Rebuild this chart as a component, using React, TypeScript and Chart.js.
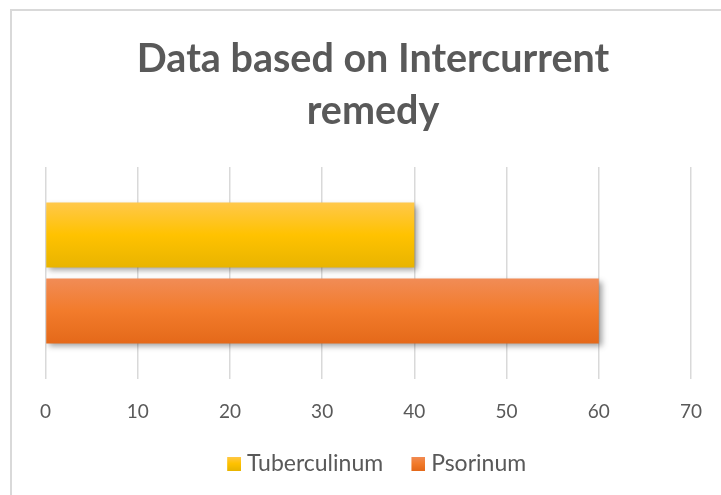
import React, { useEffect, useRef } from 'react';
import { Chart, registerables } from 'chart.js';

Chart.register(...registerables);

const categories = ['Intercurrent remedy'];
const seriesNames = ['Tuberculinum', 'Psorinum'];
const tuberculinum = [40];
const psorinum = [60];
const xTicks = [0, 10, 20, 30, 40, 50, 60, 70];
const titleLines = ['Data based on Intercurrent', 'remedy'];

const GRADS: string[][] = [
  ['#ffc84b', '#ffc200', '#e8b400'],
  ['#f18c56', '#f27b2b', '#e4691a'],
];

const CAT_PCT = 0.717;
const BAR_PCT = 0.855;
const CANVAS_W = 746;
const CANVAS_H = 495;

function barFill(stops: string[]) {
  return (c: any) => {
    const chart = c.chart;
    const ys = chart.scales && chart.scales.y;
    if (!ys || !chart.chartArea || c.type !== 'data') return stops[1];
    const n = ys.getLabels().length || 1;
    const catH = ((ys.bottom - ys.top) / n) * CAT_PCT;
    const nds = chart.data.datasets.length;
    const slot = catH / nds;
    const h = slot * BAR_PCT;
    const center = ys.getPixelForValue(c.dataIndex) - catH / 2 + slot * (c.datasetIndex + 0.5);
    const g = chart.ctx.createLinearGradient(0, center - h / 2, 0, center + h / 2);
    g.addColorStop(0, stops[0]);
    g.addColorStop(0.5, stops[1]);
    g.addColorStop(1, stops[2]);
    return g;
  };
}

// legend swatch: 14px gradient square at the right end of a 27px-wide transparent image
function makeSwatch(stops: string[]) {
  const cv = document.createElement('canvas');
  cv.width = 27;
  cv.height = 14;
  const cx = cv.getContext('2d')!;
  const g = cx.createLinearGradient(0, 0, 0, 14);
  g.addColorStop(0, stops[0]);
  g.addColorStop(0.5, stops[1]);
  g.addColorStop(1, stops[2]);
  cx.fillStyle = g;
  cx.fillRect(13, 0, 14, 14);
  return cv;
}

const shadowPlugin = {
  id: 'barShadow',
  beforeDatasetsDraw(chart: any) {
    const ctx = chart.ctx;
    ctx.save();
    ctx.shadowColor = 'rgba(0,0,0,0.38)';
    ctx.shadowBlur = 6;
    ctx.shadowOffsetX = 3;
    ctx.shadowOffsetY = 3;
  },
  afterDatasetsDraw(chart: any) {
    chart.ctx.restore();
  },
};

export default function App() {
  const ref = useRef<HTMLCanvasElement | null>(null);

  useEffect(() => {
    if (!ref.current) return;
    const swatches = GRADS.map(makeSwatch);
    const chart = new Chart(ref.current, {
      type: 'bar',
      data: {
        labels: categories,
        datasets: [
          { label: seriesNames[0], data: tuberculinum, backgroundColor: barFill(GRADS[0]) as any, borderWidth: 0 },
          { label: seriesNames[1], data: psorinum, backgroundColor: barFill(GRADS[1]) as any, borderWidth: 0 },
        ],
      },
      options: {
        indexAxis: 'y',
        responsive: false,
        animation: false,
        devicePixelRatio: 1,
        categoryPercentage: CAT_PCT,
        barPercentage: BAR_PCT,
        layout: { padding: { left: 0, right: 0, top: 0, bottom: 10 } },
        scales: {
          x: {
            type: 'linear',
            min: xTicks[0],
            max: xTicks[xTicks.length - 1],
            ticks: {
              stepSize: xTicks[1] - xTicks[0],
              padding: 21,
              color: '#595959',
              font: { family: 'Lato', size: 19 },
            },
            grid: { color: '#d9d9d9', lineWidth: 1.5, drawTicks: false },
            border: { display: false },
            afterFit: (s: any) => {
              s.height = 52;
            },
          },
          y: {
            type: 'category',
            position: 'left',
            grid: { display: false, drawTicks: false },
            border: { display: false },
            ticks: { display: false },
            afterFit: (s: any) => {
              s.width = 45.5;
            },
          },
          y2: {
            type: 'linear',
            position: 'right',
            grid: { display: false, drawTicks: false },
            border: { display: false },
            ticks: { display: false },
            afterFit: (s: any) => {
              s.width = 55;
            },
          },
        },
        plugins: {
          tooltip: { enabled: false },
          title: {
            display: true,
            text: titleLines,
            color: '#595959',
            font: { family: 'Lato', size: 39.5, weight: 'bold', lineHeight: 52 / 39.5 },
            padding: { top: 33, bottom: 30 },
          },
          legend: {
            display: true,
            position: 'bottom',
            labels: {
              usePointStyle: true,
              boxWidth: 15.5,
              boxHeight: 14,
              padding: 21,
              color: '#595959',
              font: { family: 'Lato', size: 23 },
              generateLabels: (ch: any) =>
                ch.data.datasets.map((ds: any, i: number) => ({
                  text: ds.label,
                  pointStyle: swatches[i],
                  fillStyle: 'transparent',
                  strokeStyle: 'transparent',
                  lineWidth: 0,
                  hidden: false,
                  datasetIndex: i,
                  fontColor: '#595959',
                })),
            },
          },
        },
      },
      plugins: [shadowPlugin],
    });
    return () => chart.destroy();
  }, []);

  return (
    <div
      style={{
        position: 'absolute',
        left: 0,
        top: 0,
        width: 721,
        height: 495,
        overflow: 'hidden',
        background: '#ffffff',
      }}
    >
      <div
        style={{
          position: 'absolute',
          left: 10,
          top: 9,
          width: 900,
          height: 700,
          borderLeft: '2px solid #d9d9d9',
          borderTop: '2px solid #d9d9d9',
        }}
      />
      <canvas
        ref={ref}
        width={CANVAS_W}
        height={CANVAS_H}
        style={{ position: 'absolute', left: 0, top: 0, width: CANVAS_W, height: CANVAS_H, display: 'block' }}
      />
    </div>
  );
}
